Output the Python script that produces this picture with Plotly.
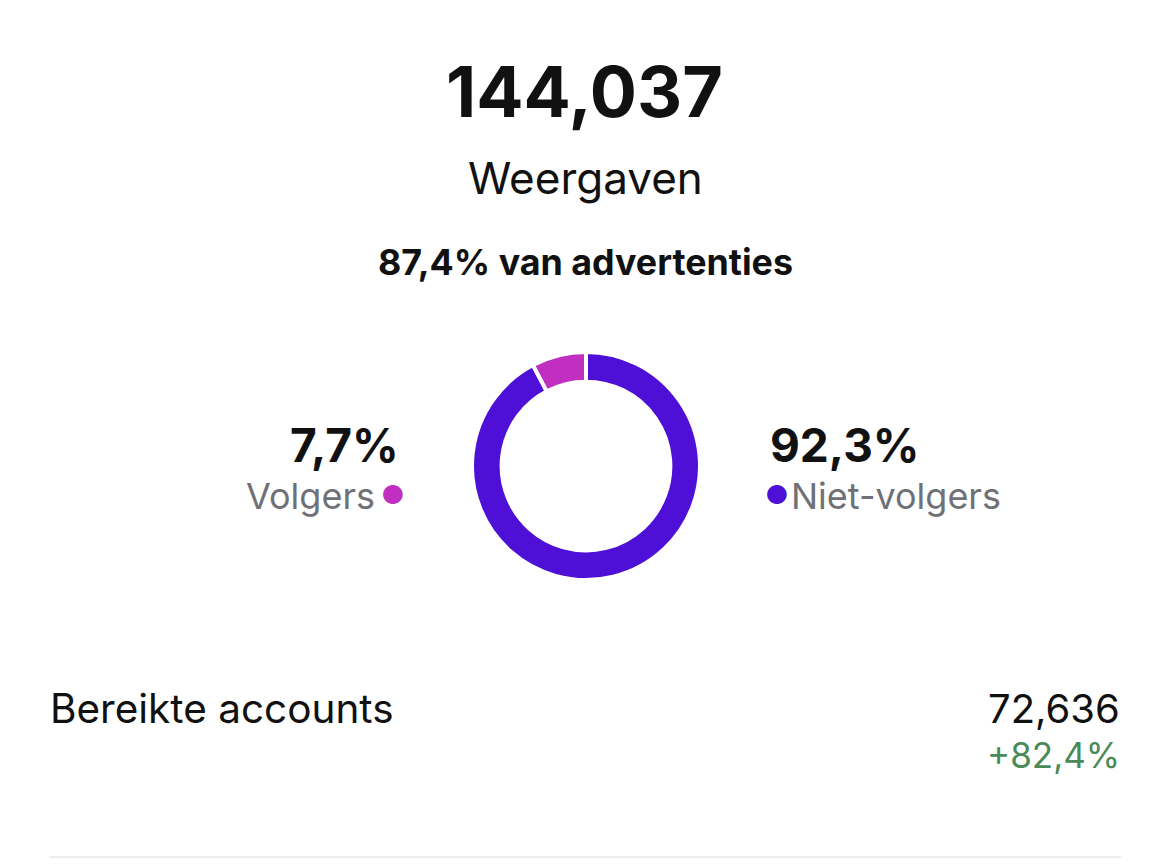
import plotly.graph_objects as go

# Data
labels = ["Niet-volgers", "Volgers"]
values = [92.3, 7.7]
colors = ["#4E10D6", "#C02FBF"]
total_views = "144,037"
views_label = "Weergaven"
ads_share = "87,4% van advertenties"
reach_label = "Bereikte accounts"
reach_value = "72,636"
reach_change = "+82,4%"

W, H = 1170, 868
FONT = "Inter"

fig = go.Figure()
fig.add_trace(go.Pie(
    labels=labels, values=values, sort=False, direction="clockwise", rotation=0,
    hole=0.74, marker=dict(colors=colors, line=dict(color="white", width=4)),
    textinfo="none", hoverinfo="none", showlegend=False,
    domain=dict(x=[(586 - 114) / W, (586 + 114) / W], y=[1 - (466 + 114) / H, 1 - (466 - 114) / H]),
))

def px(x):
    return x / W

def py(y):
    return 1 - y / H

ann = []
ann.append(dict(text=f"<b>{total_views}</b>", x=px(584), y=py(92), xanchor="center", yanchor="middle",
                font=dict(size=70, color="#111111", family=FONT)))
ann.append(dict(text=views_label, x=px(585), y=py(178), xanchor="center", yanchor="middle",
                font=dict(size=44, color="#111111", family=FONT)))
ann.append(dict(text=f"<b>{ads_share}</b>", x=px(585), y=py(262), xanchor="center", yanchor="middle",
                font=dict(size=35.8, color="#111111", family=FONT)))
# Left label (Volgers)
ann.append(dict(text=f"<b>{values[1]:.1f}%</b>".replace(".", ","), x=px(401), y=py(445), xanchor="right", yanchor="middle",
                font=dict(size=46, color="#111111", family=FONT)))
ann.append(dict(text=labels[1], x=px(377), y=py(496), xanchor="right", yanchor="middle",
                font=dict(size=36, color="#707077", family=FONT)))
ann.append(dict(text="●", x=px(393), y=py(494), xanchor="center", yanchor="middle",
                font=dict(size=26, color=colors[1], family=FONT)))
# Right label (Niet-volgers)
ann.append(dict(text=f"<b>{values[0]:.1f}%</b>".replace(".", ","), x=px(768), y=py(445), xanchor="left", yanchor="middle",
                font=dict(size=46, color="#111111", family=FONT)))
ann.append(dict(text=labels[0], x=px(789), y=py(496), xanchor="left", yanchor="middle",
                font=dict(size=36, color="#707077", family=FONT)))
ann.append(dict(text="●", x=px(777), y=py(494), xanchor="center", yanchor="middle",
                font=dict(size=26, color=colors[0], family=FONT)))
# Bottom row
ann.append(dict(text=reach_label, x=px(48), y=py(708), xanchor="left", yanchor="middle",
                font=dict(size=40.5, color="#111111", family=FONT)))
ann.append(dict(text=reach_value, x=px(1122), y=py(708), xanchor="right", yanchor="middle",
                font=dict(size=40, color="#111111", family=FONT)))
ann.append(dict(text=reach_change, x=px(1122), y=py(755), xanchor="right", yanchor="middle",
                font=dict(size=35, color="#4A8A57", family=FONT)))

for a in ann:
    a.update(xref="paper", yref="paper", showarrow=False)

fig.update_layout(
    width=W, height=H, margin=dict(l=0, r=0, t=0, b=0),
    paper_bgcolor="white", plot_bgcolor="white",
    annotations=ann,
    shapes=[dict(type="line", xref="paper", yref="paper", x0=px(49), x1=px(1121), y0=py(857), y1=py(857),
                 line=dict(color="#EDEDED", width=2))],
)

fig.write_html("out.html", config={"displayModeBar": False})
